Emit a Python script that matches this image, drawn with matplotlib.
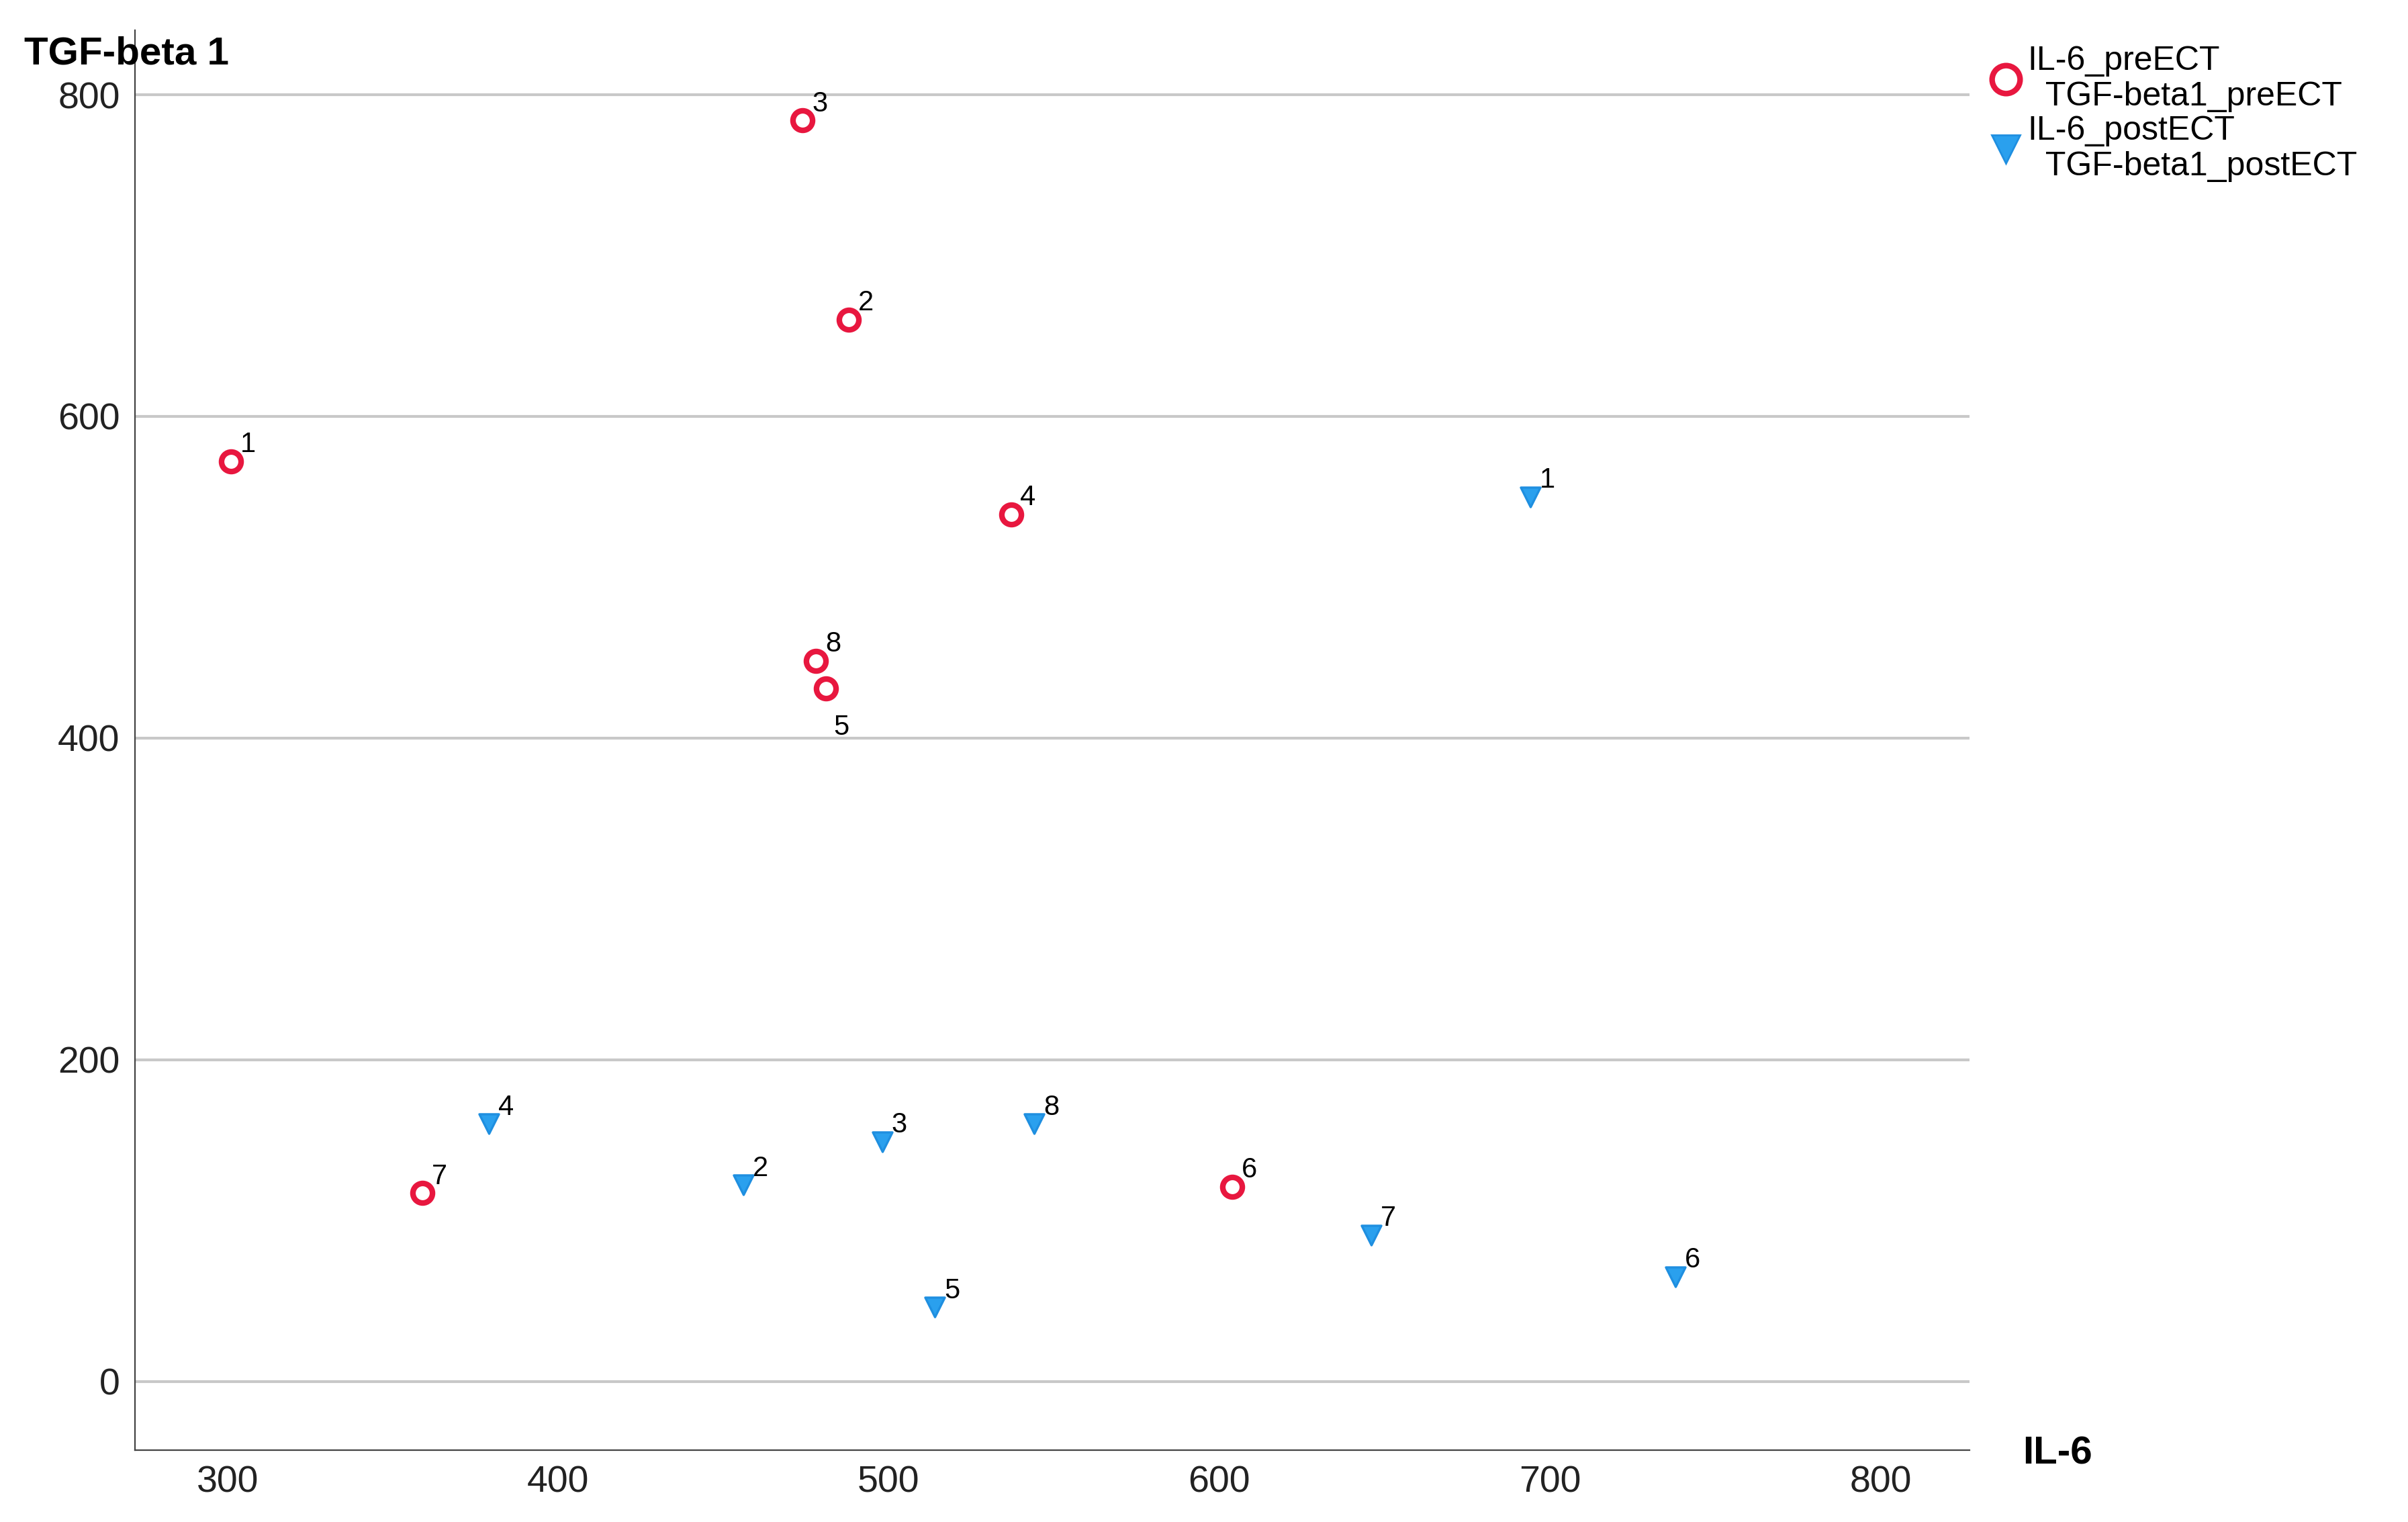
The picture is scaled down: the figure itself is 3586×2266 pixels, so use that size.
import matplotlib
matplotlib.use("Agg")
import matplotlib.pyplot as plt
from matplotlib.lines import Line2D

plt.rcParams['font.family'] = ['Liberation Sans', 'DejaVu Sans']

pre_il6 = [301, 488, 474, 537, 481, 604, 359, 478]
pre_tgf = [572, 660, 784, 539, 431, 121, 117, 448]
post_il6 = [694, 456, 498, 379, 514, 738, 646, 544]
post_tgf = [550, 122, 149, 160, 46, 65, 91, 160]
ids = [1, 2, 3, 4, 5, 6, 7, 8]

red = "#e8173f"
blue = "#1f8fe0"

fig = plt.figure(figsize=(17.93, 11.33), dpi=200)
ax = fig.add_axes([0.056, 0.047, 0.762, 0.933])
ax.set_xlim(272, 827)
ax.set_ylim(-43, 840)
ax.set_yticks([0, 200, 400, 600, 800])
ax.set_xticks([300, 400, 500, 600, 700, 800])
ax.grid(axis="y", color="#c8c8c8", lw=1.5)
ax.set_axisbelow(True)
for s in ["top", "right"]:
    ax.spines[s].set_visible(False)
for s in ["left", "bottom"]:
    ax.spines[s].set_color("#444444")
ax.tick_params(length=0, labelsize=20, colors="#222222", pad=8)

ax.scatter(pre_il6, pre_tgf, s=110, facecolors="white", edgecolors=red, linewidths=3, zorder=3)
ax.scatter(post_il6, post_tgf, s=110, marker="v", facecolors="#2aa0ee", edgecolors=blue, linewidths=1.2, zorder=3)

for x, y, i in zip(pre_il6, pre_tgf, ids):
    if i == 5:
        ax.annotate(str(i), (x, y), xytext=(4, -14), textcoords="offset points", fontsize=15, va="top")
    else:
        ax.annotate(str(i), (x, y), xytext=(5, 5), textcoords="offset points", fontsize=15)
for x, y, i in zip(post_il6, post_tgf, ids):
    ax.annotate(str(i), (x, y), xytext=(5, 5), textcoords="offset points", fontsize=15)

fig.text(0.01, 0.958, "TGF-beta 1", fontsize=21, fontweight="bold")
fig.text(0.84, 0.038, "IL-6", fontsize=21, fontweight="bold")

handles = [
    Line2D([], [], marker="o", ls="", mfc="white", mec=red, mew=3, ms=15),
    Line2D([], [], marker="v", ls="", mfc="#2aa0ee", mec=blue, ms=15),
]
fig.legend(handles, ["IL-6_preECT\n  TGF-beta1_preECT", "IL-6_postECT\n  TGF-beta1_postECT"],
           loc="upper left", bbox_to_anchor=(0.812, 0.99), frameon=False,
           fontsize=18, handletextpad=0.05, labelspacing=0.1, handlelength=1.2)

fig.savefig("out.png", dpi=200)
